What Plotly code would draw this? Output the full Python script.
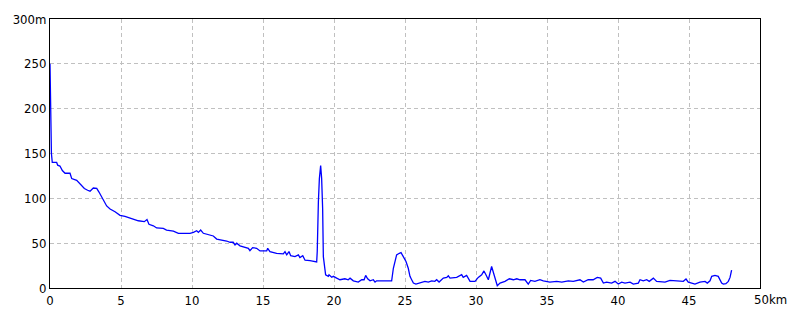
import plotly.graph_objects as go

dist_km = [0.0, 0.03, 0.06, 0.1, 0.16, 0.47, 0.54, 0.7, 0.87, 1.06, 1.41, 1.53, 1.88, 2.11, 2.42, 2.65, 2.82,
           3.05, 3.29, 3.45, 3.64, 3.83, 3.99, 4.23, 4.58, 4.93, 5.28, 5.75, 6.22, 6.64, 6.83, 6.97, 7.28,
           7.51, 7.98, 8.21, 8.69, 9.04, 9.86, 10.1, 10.33, 10.45, 10.61, 10.8, 11.03, 11.27, 11.5, 11.74,
           12.2, 12.44, 12.68, 12.9, 13.03, 13.15, 13.38, 13.6, 13.97, 14.08, 14.27, 14.55, 14.79, 15.26,
           15.33, 15.49, 15.96, 16.43, 16.55, 16.67, 16.83, 16.95, 17.25, 17.49, 17.6, 17.8, 17.96, 18.31,
           18.66, 18.78, 18.82, 18.85, 18.9, 18.97, 19.06, 19.13, 19.2, 19.25, 19.32, 19.41, 19.6, 19.65,
           19.84, 19.95, 20.19, 20.42, 20.77, 21.0, 21.13, 21.36, 21.71, 21.95, 22.12, 22.23, 22.37, 22.54,
           22.77, 22.89, 23.0, 23.24, 23.94, 24.06, 24.18, 24.3, 24.41, 24.6, 24.72, 24.88, 25.07, 25.23,
           25.35, 25.47, 25.59, 25.77, 26.06, 26.4, 26.64, 26.88, 27.1, 27.23, 27.4, 27.7, 27.94, 28.05,
           28.17, 28.64, 28.99, 29.1, 29.34, 29.58, 29.93, 30.16, 30.4, 30.56, 30.7, 30.87, 31.1, 31.22,
           31.34, 31.5, 31.69, 32.04, 32.35, 32.63, 32.87, 33.1, 33.45, 33.68, 33.85, 34.15, 34.5, 34.74,
           35.2, 35.68, 36.04, 36.5, 36.85, 37.32, 37.56, 37.9, 38.25, 38.54, 38.78, 38.97, 39.2, 39.55,
           39.79, 40.02, 40.26, 40.49, 40.85, 41.08, 41.43, 41.55, 41.78, 42.02, 42.2, 42.49, 42.72, 43.08,
           43.31, 43.66, 44.0, 44.25, 44.6, 44.79, 44.95, 45.19, 45.42, 45.77, 46.13, 46.29, 46.48, 46.6,
           46.83, 47.06, 47.18, 47.3, 47.42, 47.6, 47.77, 47.89, 48.0]

elev_m = [250, 205, 160, 150, 140, 140, 137, 136, 131, 128, 128, 122, 120, 116, 111, 109, 108,
          111.5, 111, 107, 101.5, 96, 91.5, 88, 85, 81, 80, 77.5, 75, 74, 76.4, 71, 69.4,
          67, 66.4, 64.6, 63.5, 61, 61, 62, 63.8, 62, 64.6, 61, 60, 59, 58, 54.6,
          53.5, 52.4, 51, 51, 48, 50, 47, 46, 44.3, 41.7, 45, 44.3, 41.3, 41.3,
          44.3, 40.6, 38.7, 38, 40.6, 37, 40.6, 36, 35, 37, 34, 36, 31, 30.6,
          29.5, 29, 40.6, 66, 96, 122, 136.5, 122, 88.6, 35, 22, 14.8, 13, 14.8,
          12, 13, 11, 9.2, 10.3, 9.2, 11, 8, 6.6, 9.2, 9.2, 14, 10.3, 8,
          9.2, 6.6, 8, 8, 8, 8, 22, 29.5, 37, 38.7, 39.5, 35, 29.5, 22,
          13, 9.2, 5.5, 4.4, 6, 7.4, 6.6, 8, 7.4, 9.2, 6.6, 11, 11.8, 13.6,
          11, 11.8, 14.8, 11.8, 14, 7.4, 7.4, 11.8, 14.8, 19, 14.8, 9.2, 24, 16.6,
          9.2, 2.6, 5.5, 7.4, 10.3, 9.2, 10.3, 9.2, 9.2, 4.4, 8.5, 7.4, 9.2, 8,
          6.6, 7.4, 6.6, 8, 7.4, 9.2, 6.6, 9.2, 9.2, 11.8, 11, 5.5, 6.6, 5.5,
          7.4, 4.4, 6.6, 5.5, 6.6, 4.4, 5.5, 9.2, 8, 9.2, 7.4, 11, 7.4, 7.4,
          6.6, 8.5, 8, 7.4, 7.4, 10, 6.6, 5.5, 4.4, 6.6, 7.4, 5.5, 8, 13,
          14, 13, 9.2, 5.5, 4.4, 4.8, 7.4, 11.8, 20]

x_tickvals = [0, 5, 10, 15, 20, 25, 30, 35, 40, 45, 50]
x_ticktext = ["0", "5", "10", "15", "20", "25", "30", "35", "40", "45", ""]
y_tickvals = [0, 50, 100, 150, 200, 250, 300]
y_ticktext = ["0", "50", "100", "150", "200", "250", "300m"]

FONT = "Liberation Sans Narrow, DejaVu Sans Condensed, sans-serif"

fig = go.Figure()
fig.add_trace(go.Scatter(x=dist_km, y=elev_m, mode="lines",
                         line=dict(color="#0000ff", width=1.3), hoverinfo="skip"))

axis_common = dict(showgrid=True, gridcolor="#c0c0c0", griddash="4px,3px", gridwidth=1,
                   showline=True, linecolor="black", linewidth=1, mirror=True,
                   zeroline=False, ticks="", tickfont=dict(family=FONT, size=13, color="black"))

fig.update_xaxes(range=[0, 50], tickmode="array", tickvals=x_tickvals, ticktext=x_ticktext, **axis_common)
fig.update_yaxes(range=[0, 300], tickmode="array", tickvals=y_tickvals, ticktext=y_ticktext, **axis_common)

fig.add_annotation(x=50, y=0, xref="x", yref="y", text="50km", showarrow=False,
                   xanchor="left", yanchor="top", xshift=-8, yshift=-2,
                   font=dict(family=FONT, size=13, color="black"))

fig.update_layout(width=800, height=320, margin=dict(l=50, r=40, t=19, b=30),
                  paper_bgcolor="white", plot_bgcolor="white", showlegend=False)

fig.write_html("out.html")
